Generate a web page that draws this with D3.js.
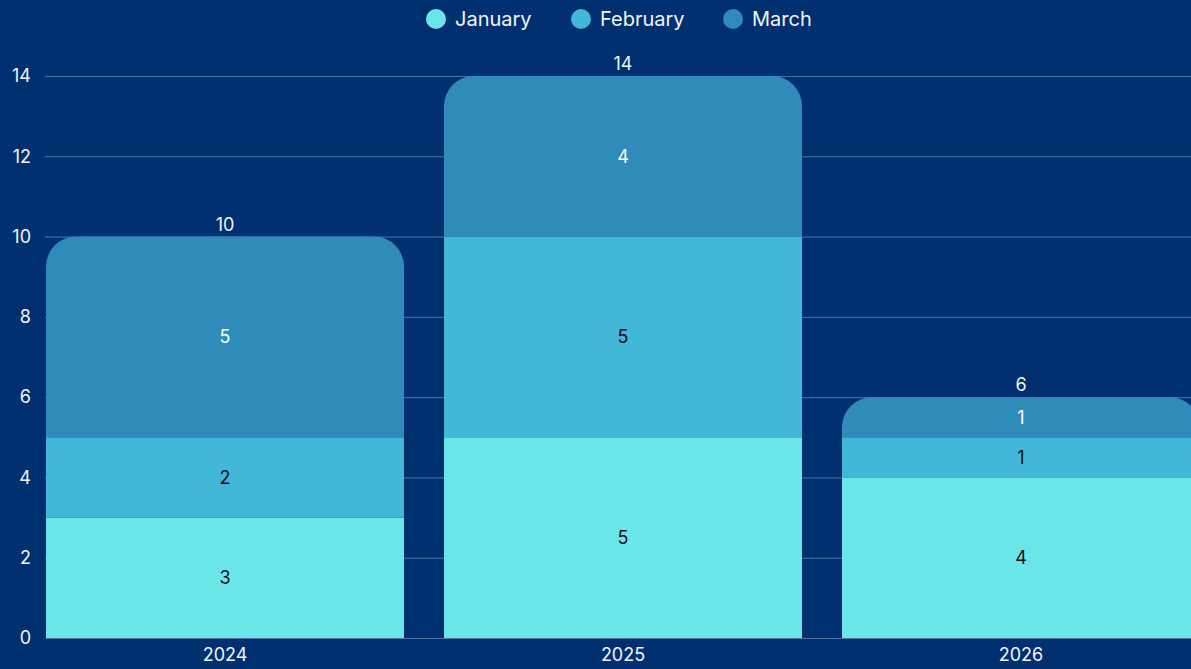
<!DOCTYPE html>
<html>
<head>
	<meta charset="utf-8">
	<script src="https://d3js.org/d3.v7.min.js"></script>
	<style>
		body { margin: 0; background: #013070; overflow: hidden; }
		text { font-family: "Inter", "Noto Sans", sans-serif; }
	</style>
</head>
<body>
	<script type="text/javascript">

		// data
		var years = ["2024", "2025", "2026"];
		var months = ["January", "February", "March"];
		var january = [3, 5, 4];
		var february = [2, 5, 1];
		var march = [5, 4, 1];
		var yTicks = [0, 2, 4, 6, 8, 10, 12, 14];
		var colors = ["#6ae6e9", "#42b7d7", "#2e8bba"];
		var labelColors = ["#111", "#111", "#fff"];

		var w = 1191;
		var h = 669;

		var svg = d3.select("body")
			.append("svg")
			.attr("width", w)
			.attr("height", h);

		// one row per year, for the stack
		var rows = years.map(function(y, i) {
			return { year: y, January: january[i], February: february[i], March: march[i] };
		});
		var series = d3.stack().keys(months)(rows);

		var xScale = d3.scaleBand()
			.domain(years)
			.range([46, 1200])
			.paddingInner(40 / 398)
			.paddingOuter(0);

		var yScale = d3.scaleLinear()
			.domain([0, 14])
			.range([638, 76]);

		// gridlines
		svg.append("g")
			.selectAll("line")
			.data(yTicks)
			.enter()
			.append("line")
			.attr("x1", 45)
			.attr("x2", w)
			.attr("y1", function(d) { return yScale(d) + 0.5; })
			.attr("y2", function(d) { return yScale(d) + 0.5; })
			.attr("stroke", "#4f73a3")
			.attr("stroke-width", 1);

		// y axis labels
		var yAxis = d3.axisLeft(yScale).tickValues(yTicks).tickSize(0).tickPadding(0);
		svg.append("g")
			.attr("transform", "translate(31,0)")
			.call(yAxis)
			.call(function(g) { g.select(".domain").remove(); })
			.selectAll("text")
			.attr("fill", "#f2f4f8")
			.attr("font-size", 18)
			.attr("font-family", "Inter, 'Noto Sans', sans-serif");

		// x axis labels
		var xAxis = d3.axisBottom(xScale).tickSize(0).tickPadding(0);
		svg.append("g")
			.attr("transform", "translate(0,648)")
			.call(xAxis)
			.call(function(g) { g.select(".domain").remove(); })
			.selectAll("text")
			.attr("fill", "#f2f4f8")
			.attr("font-size", 18)
			.attr("font-family", "Inter, 'Noto Sans', sans-serif");

		// rounded top segment
		var r = 30;
		function topPath(x0, x1, y0, y1) {
			var rr = Math.min(r, (y0 - y1), (x1 - x0) / 2);
			return "M" + x0 + "," + y0 +
				"V" + (y1 + rr) +
				"A" + rr + "," + rr + " 0 0 1 " + (x0 + rr) + "," + y1 +
				"H" + (x1 - rr) +
				"A" + rr + "," + rr + " 0 0 1 " + x1 + "," + (y1 + rr) +
				"V" + y0 + "Z";
		}

		var groups = svg.selectAll(".series")
			.data(series)
			.enter()
			.append("g")
			.attr("class", "series")
			.attr("fill", function(d, i) { return colors[i]; });

		groups.selectAll("path")
			.data(function(d) { return d.map(function(p) { return { p: p, key: d.key, idx: d.index }; }); })
			.enter()
			.append("path")
			.attr("d", function(d) {
				var x0 = xScale(d.p.data.year);
				var x1 = x0 + xScale.bandwidth();
				var yb = yScale(d.p[0]);
				var yt = yScale(d.p[1]);
				if (d.idx === months.length - 1) return topPath(x0, x1, yb, yt);
				return "M" + x0 + "," + yb + "V" + yt + "H" + x1 + "V" + yb + "Z";
			});

		// segment labels
		groups.selectAll("text")
			.data(function(d) { return d.map(function(p) { return { p: p, idx: d.index }; }); })
			.enter()
			.append("text")
			.attr("x", function(d) { return xScale(d.p.data.year) + xScale.bandwidth() / 2; })
			.attr("y", function(d) { return (yScale(d.p[0]) + yScale(d.p[1])) / 2; })
			.attr("dy", "0.35em")
			.attr("text-anchor", "middle")
			.attr("font-size", 18)
			.attr("fill", function(d) { return labelColors[d.idx]; })
			.text(function(d) { return d.p[1] - d.p[0]; });

		// totals
		svg.append("g")
			.selectAll("text")
			.data(rows)
			.enter()
			.append("text")
			.attr("x", function(d) { return xScale(d.year) + xScale.bandwidth() / 2; })
			.attr("y", function(d) { return yScale(d.January + d.February + d.March) - 6; })
			.attr("text-anchor", "middle")
			.attr("font-size", 18)
			.attr("fill", "#f2f4f8")
			.text(function(d) { return d.January + d.February + d.March; });

		// legend
		var legendX = [436, 581, 733];
		var legend = svg.append("g")
			.selectAll("g")
			.data(months)
			.enter()
			.append("g")
			.attr("transform", function(d, i) { return "translate(" + legendX[i] + ",19)"; });

		legend.append("circle")
			.attr("r", 10)
			.attr("fill", function(d, i) { return colors[i]; });

		legend.append("text")
			.attr("x", 19)
			.attr("dy", "0.35em")
			.attr("font-size", 20)
			.attr("fill", "#f2f4f8")
			.text(function(d) { return d; });

	</script>
</body>
</html>
